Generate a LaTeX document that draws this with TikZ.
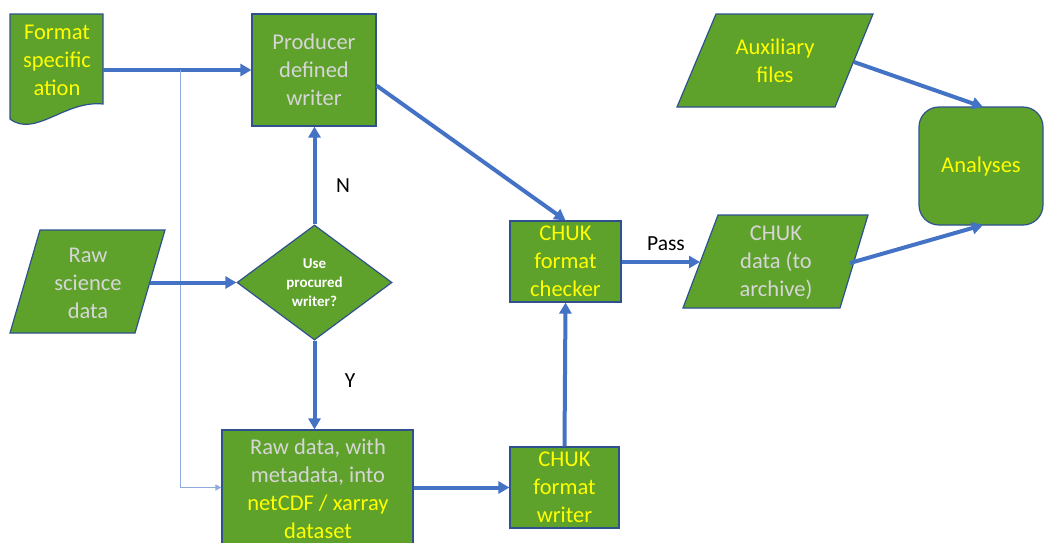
\documentclass[tikz,border=0pt]{standalone}
\usepackage{fontspec}
\setmainfont{Carlito}
\usetikzlibrary{arrows.meta,shapes.geometric}
\definecolor{boxgreen}{HTML}{5EA12B}
\definecolor{edgeblue}{HTML}{2F528F}
\definecolor{flowblue}{HTML}{4472C4}
\definecolor{thinblue}{HTML}{8FAADC}
\definecolor{softgray}{HTML}{D6D6D6}
\definecolor{hiyellow}{HTML}{FFFF00}

\begin{document}
\begin{tikzpicture}[x=1pt,y=-1pt,
  shapebox/.style={draw=edgeblue, line width=1.2pt, fill=boxgreen},
  rectbox/.style={shapebox, rectangle, inner sep=0pt},
  lbl/.style={inner sep=0pt, align=center, font=\fontsize{22.5}{28}\selectfont},
  qlbl/.style={inner sep=0pt, align=center, font=\bfseries\fontsize{15}{19}\selectfont},
  flow/.style={draw=flowblue, line width=4pt, -{Triangle[length=11pt,width=12pt]}},
  feed/.style={draw=thinblue, line width=0.9pt, -{Triangle[length=6pt,width=6pt]}},
  tag/.style={inner sep=0pt, font=\fontsize{21.5}{24}\selectfont, text=black}
]
\clip (0,0) rectangle (1045,542);
\fill[white] (0,0) rectangle (1045,542);

% document symbol: format specification
\draw[shapebox] (10,14) -- (103,14) -- (103,104)
  .. controls (65,100) and (35,138) .. (10,119) -- cycle;
\node[lbl, text=hiyellow] (spec) at (57,60) {Format\\specific\\ation};
\coordinate (specout) at (103,70);
\coordinate (tap) at (180,70);

% process boxes
\node[rectbox, lbl, text=softgray, minimum width=124pt, minimum height=112pt]
  (prod) at (314,70) {Producer\\defined\\writer};
\node[rectbox, minimum width=191pt, minimum height=142pt] (rawbox) at (317.5,501) {};
\node[lbl] (rawtxt) at (318,489) {\textcolor{softgray}{Raw data, with}\\
  \textcolor{softgray}{metadata, into}\\
  \textcolor{hiyellow}{netCDF / xarray}\\
  \textcolor{hiyellow}{dataset}};
\node[rectbox, lbl, text=hiyellow, minimum width=109pt, minimum height=81pt]
  (writer) at (564.5,487.5) {CHUK\\format\\writer};
\node[rectbox, lbl, text=hiyellow, minimum width=111pt, minimum height=81pt]
  (checker) at (565.5,261.5) {CHUK\\format\\checker};
\node[rectbox, lbl, text=hiyellow, rounded corners=20pt,
  minimum width=124pt, minimum height=118pt] (analyses) at (981,166) {Analyses};

% decision
\node[shapebox, diamond, inner sep=0pt, minimum width=155pt, minimum height=115pt,
  qlbl, text=white] (ask) at (314.5,282.5) {Use\\procured\\writer?};

% data (parallelograms)
\draw[shapebox] (40,230) -- (165,230) -- (135,333) -- (10,333) -- cycle;
\node[lbl, text=softgray] (rawsci) at (88,283) {Raw\\science\\data};
\coordinate (rawsciout) at (150,282.5);

\draw[shapebox] (718,215) -- (868,215) -- (840,308) -- (683,308) -- cycle;
\node[lbl, text=softgray] (chukdata) at (776,263) {CHUK\\data (to\\archive)};
\coordinate (chukin) at (700,262);
\coordinate (chukout) at (850,263);

\draw[shapebox] (716,14) -- (873,14) -- (835,107) -- (677,107) -- cycle;
\node[lbl, text=hiyellow] (aux) at (775,61) {Auxiliary\\files};
\coordinate (auxout) at (854,62);
\coordinate (anatop) at (983,107);
\coordinate (anabot) at (983,225);

% connectors
\draw[flow] (specout) -- (prod.west |- specout);
\draw[feed] (tap) |- (rawbox.west |- writer.west);
\draw[flow] (rawsciout) -- (ask.west);
\draw[flow] (ask.north) -- (prod.south -| ask.north);
\draw[flow] (ask.south) -- (rawbox.north -| ask.south);
\draw[flow] (prod.-14) -- (checker.north);
\draw[flow] (rawbox.east |- writer.west) -- (writer.west);
\draw[flow] (writer.north) -- (checker.south);
\draw[flow] (checker.east |- chukin) -- (chukin);
\draw[flow] (auxout) -- (anatop);
\draw[flow] (chukout) -- (anabot);

% branch labels
\node[tag] (nlabel) at (343,186) {N};
\node[tag] (ylabel) at (350,381) {Y};
\node[tag] (passlabel) at (666,244) {Pass};
\end{tikzpicture}
\end{document}
